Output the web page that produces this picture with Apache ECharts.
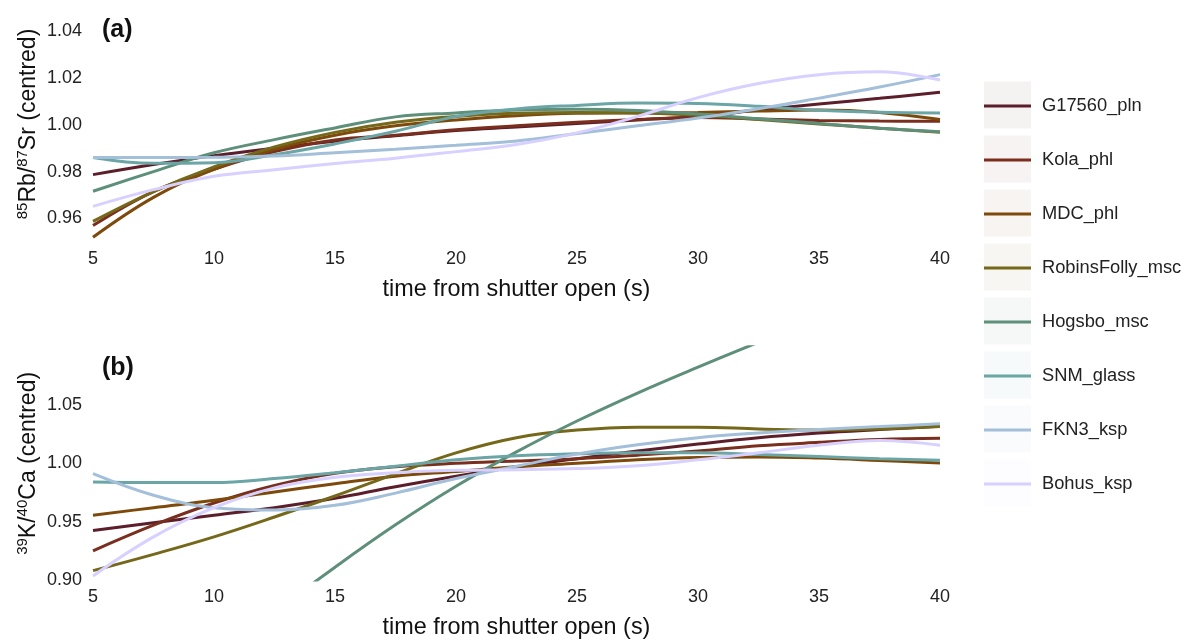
<!DOCTYPE html>
<html>
<head>
<meta charset="utf-8">
<script src="https://cdn.jsdelivr.net/npm/echarts@6/dist/echarts.min.js"></script>
<style>
  html, body { margin: 0; padding: 0; background: #fff; }
  #chart { width: 1188px; height: 640px; }
</style>
</head>
<body>
<div id="chart"></div>
<script>
// ---- data ----
const times = [5, 7.5, 10, 12.5, 15, 17.5, 20, 22.5, 25, 27.5, 30, 32.5, 35, 37.5, 40];
const xTicks = [5, 10, 15, 20, 25, 30, 35, 40];
const rbTickLabels = [0.96, 0.98, 1.00, 1.02, 1.04];
const kTickLabels = [0.90, 0.95, 1.00, 1.05];

const sampleNames = ['G17560_pln', 'Kola_phl', 'MDC_phl', 'RobinsFolly_msc', 'Hogsbo_msc', 'SNM_glass', 'FKN3_ksp', 'Bohus_ksp'];
const sampleColors = ['#5b1e2a', '#7a2e1e', '#7d4a0b', '#76681a', '#5e8f7a', '#6ba5a6', '#a3bfd9', '#d8d0ff'];

// panel (a): 85Rb/87Sr (centred)
const rb_G17560 = [0.9787, 0.9830, 0.9868, 0.9900, 0.9929, 0.9953, 0.9975, 0.9990, 1.0005, 1.0020, 1.0035, 1.0062, 1.0088, 1.0112, 1.0138];
const rb_Kola   = [0.9570, 0.9715, 0.9810, 0.9885, 0.9935, 0.9955, 0.9978, 0.9995, 1.0010, 1.0022, 1.0030, 1.0024, 1.0018, 1.0015, 1.0014];
const rb_MDC    = [0.9520, 0.9690, 0.9810, 0.9895, 0.9955, 0.9995, 1.0020, 1.0038, 1.0048, 1.0050, 1.0052, 1.0058, 1.0062, 1.0052, 1.0022];
const rb_Robins = [0.9588, 0.9715, 0.9820, 0.9905, 0.9967, 1.0010, 1.0035, 1.0048, 1.0052, 1.0050, 1.0040, 1.0022, 1.0003, 0.9985, 0.9968];
const rb_Hogsbo = [0.9716, 0.9800, 0.9880, 0.9936, 0.9986, 1.0033, 1.0050, 1.0062, 1.0065, 1.0060, 1.0045, 1.0025, 1.0005, 0.9985, 0.9970];
const rb_SNM    = [0.9860, 0.9835, 0.9838, 0.9872, 0.9918, 0.9972, 1.0035, 1.0067, 1.0082, 1.0092, 1.0090, 1.0078, 1.0061, 1.0053, 1.0050];
const rb_FKN3   = [0.9860, 0.9860, 0.9861, 0.9866, 0.9880, 0.9895, 0.9912, 0.9930, 0.9962, 0.9995, 1.0028, 1.0068, 1.0113, 1.0160, 1.0213];
const rb_Bohus  = [0.9652, 0.9723, 0.9780, 0.9808, 0.9834, 0.9857, 0.9885, 0.9915, 0.9965, 1.0035, 1.0115, 1.0175, 1.0213, 1.0225, 1.0190];

// panel (b): 39K/40Ca (centred)
const k_G17560 = [0.9425, 0.9490, 0.9555, 0.9620, 0.9700, 0.9800, 0.9890, 0.9970, 1.0040, 1.0105, 1.0165, 1.0220, 1.0260, 1.0290, 1.0317];
const k_Kola   = [0.9250, 0.9470, 0.9660, 0.9810, 0.9915, 0.9970, 1.0000, 1.0020, 1.0040, 1.0070, 1.0105, 1.0150, 1.0180, 1.0205, 1.0215];
const k_MDC    = [0.9555, 0.9620, 0.9683, 0.9755, 0.9826, 0.9890, 0.9930, 0.9970, 1.0000, 1.0030, 1.0050, 1.0055, 1.0045, 1.0025, 1.0003];
const k_Robins = [0.9080, 0.9220, 0.9370, 0.9540, 0.9720, 0.9910, 1.0090, 1.0220, 1.0285, 1.0310, 1.0310, 1.0295, 1.0285, 1.0295, 1.0315];
const k_Hogsbo = [null, null, null, 0.8725, 0.9110, 0.9473, 0.9803, 1.0098, 1.0363, 1.0603, 1.0825, 1.1038, 1.1243, null, null];
const k_SNM    = [0.9840, 0.9835, 0.9835, 0.9870, 0.9920, 0.9975, 1.0030, 1.0065, 1.0082, 1.0090, 1.0090, 1.0075, 1.0058, 1.0040, 1.0026];
const k_FKN3   = [0.9912, 0.9727, 0.9620, 0.9600, 0.9640, 0.9745, 0.9870, 0.9975, 1.0080, 1.0160, 1.0220, 1.0260, 1.0290, 1.0315, 1.0340];
const k_Bohus  = [0.9035, 0.9370, 0.9620, 0.9790, 0.9880, 0.9920, 0.9940, 0.9945, 0.9955, 0.9980, 1.0030, 1.0090, 1.0155, 1.0195, 1.0155];

const rbSeries = [rb_G17560, rb_Kola, rb_MDC, rb_Robins, rb_Hogsbo, rb_SNM, rb_FKN3, rb_Bohus];
const kSeries  = [k_G17560, k_Kola, k_MDC, k_Robins, k_Hogsbo, k_SNM, k_FKN3, k_Bohus];

// ---- chart ----
const FONT = "'Liberation Sans', Arial, Helvetica, sans-serif";
const chart = echarts.init(document.getElementById('chart'), null, { renderer: 'canvas' });

function near(v, list) {
  return list.some(t => Math.abs(v - t) < 1e-6);
}

const yRich = {
  main: { fontSize: 23, lineHeight: 28, color: '#111', fontFamily: FONT },
  sup: { fontSize: 15, lineHeight: 15, verticalAlign: 'top', color: '#111', fontFamily: FONT }
};

function xAxisCfg(gridIndex) {
  return {
    gridIndex: gridIndex,
    type: 'value',
    min: 5, max: 40, interval: 5,
    axisLine: { show: false }, axisTick: { show: false }, splitLine: { show: false },
    axisLabel: {
      fontSize: 18, color: '#222', fontFamily: FONT, margin: 8,
      formatter: v => near(v, xTicks) ? String(v) : ''
    },
    name: 'time from shutter open (s)',
    nameLocation: 'middle',
    nameGap: 36,
    nameMoveOverlap: false,
    nameTextStyle: { fontSize: 23.4, color: '#111', fontFamily: FONT, verticalAlign: 'top' }
  };
}

function mkSeries(list, xi, yi) {
  return list.map((d, i) => ({
    name: sampleNames[i],
    type: 'line',
    xAxisIndex: xi, yAxisIndex: yi,
    data: times.map((t, j) => [t, d[j]]),
    smooth: 0.4,
    symbol: 'none',
    showSymbol: false,
    connectNulls: false,
    clip: true,
    lineStyle: { width: 3, color: sampleColors[i] },
    itemStyle: { color: sampleColors[i] },
    emphasis: { disabled: true },
    z: 2 + i
  }));
}

const legendTop = 92;
const legendPitch = 54;
const keyBoxes = sampleNames.map((n, i) => ({
  type: 'rect',
  left: 984,
  top: 81.5 + legendPitch * i,
  shape: { width: 47, height: 47 },
  style: { fill: sampleColors[i], opacity: 0.06 },
  z: 0
}));

const option = {
  animation: false,
  backgroundColor: '#ffffff',
  textStyle: { fontFamily: FONT },
  grid: [
    { left: 93, right: 248, top: 19, height: 223 },
    { left: 93, right: 248, top: 346.7, height: 233.6 }
  ],
  xAxis: [xAxisCfg(0), xAxisCfg(1)],
  yAxis: [
    {
      gridIndex: 0, type: 'value',
      min: 0.95, max: 1.045, interval: 0.01,
      axisLine: { show: false }, axisTick: { show: false }, splitLine: { show: false },
      axisLabel: {
        fontSize: 18, color: '#222', fontFamily: FONT, margin: 11,
        formatter: v => near(v, rbTickLabels) ? v.toFixed(2) : ''
      },
      name: '{sup|85}{main|Rb/}{sup|87}{main|Sr (centred)}',
      nameLocation: 'middle', nameRotate: 90, nameGap: 50,
      nameMoveOverlap: false,
      nameTextStyle: { rich: yRich, padding: [0, 0, 0, 13] }
    },
    {
      gridIndex: 1, type: 'value',
      min: 0.9, max: 1.1, interval: 0.05,
      axisLine: { show: false }, axisTick: { show: false }, splitLine: { show: false },
      axisLabel: {
        fontSize: 18, color: '#222', fontFamily: FONT, margin: 11,
        formatter: v => near(v, kTickLabels) ? v.toFixed(2) : ''
      },
      name: '{sup|39}{main|K/}{sup|40}{main|Ca (centred)}',
      nameLocation: 'middle', nameRotate: 90, nameGap: 50,
      nameMoveOverlap: false,
      nameTextStyle: { rich: yRich }
    }
  ],
  legend: {
    data: sampleNames.map(n => ({ name: n, icon: 'rect' })),
    orient: 'vertical',
    left: 979,
    top: legendTop,
    itemWidth: 47,
    itemHeight: 3,
    itemGap: 36,
    selectedMode: false,
    textStyle: { fontSize: 18.3, color: '#222', fontFamily: FONT, padding: [0, 0, 0, 6] }
  },
  graphic: [
    ...keyBoxes,
    { type: 'text', left: 102, top: 18, style: { text: '(a)', fontSize: 25, fontWeight: 'bold', fill: '#111', fontFamily: FONT }, z: 10 },
    { type: 'text', left: 102, top: 356, style: { text: '(b)', fontSize: 25, fontWeight: 'bold', fill: '#111', fontFamily: FONT }, z: 10 }
  ],
  series: [...mkSeries(rbSeries, 0, 0), ...mkSeries(kSeries, 1, 1)]
};

chart.setOption(option);
</script>
</body>
</html>
